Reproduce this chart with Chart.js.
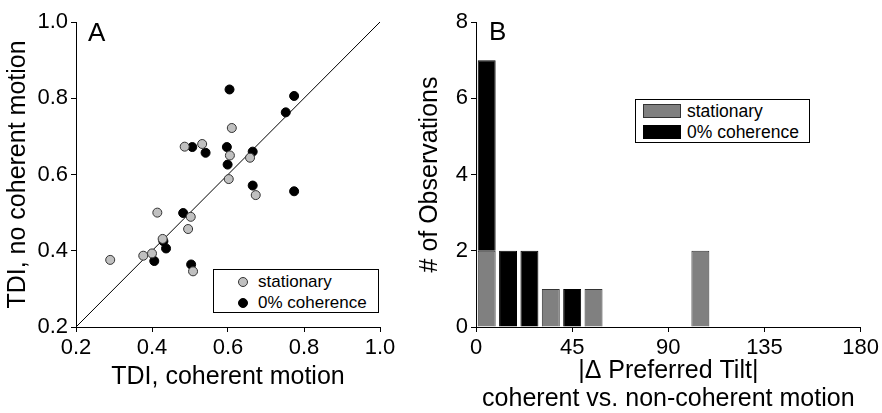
<!DOCTYPE html>
<html>
<head>
<meta charset="utf-8">
<script src="https://cdn.jsdelivr.net/npm/chart.js@4.4.0/dist/chart.umd.min.js"></script>
<style>
  body { margin: 0; background: #fff; font-family: "Liberation Sans", Arial, sans-serif; }
  #wrap { position: relative; width: 882px; height: 413px; overflow: hidden; }
  .panel { position: absolute; top: 0; }
  #panelA { left: 0; }
  #panelB { left: 410px; }
  .tag { position: absolute; font-size: 26px; line-height: 1; color: #000; }
  .legend { position: absolute; border: 1px solid #000; background: #fff; color: #000; box-sizing: border-box; }
  .legend .row { display: flex; align-items: center; white-space: nowrap; }
  .dot { width: 10px; height: 10px; border-radius: 50%; box-sizing: border-box; border: 1px solid #333; margin-right: 10px; }
  .swatch { width: 38px; height: 14px; box-sizing: border-box; border: 1px solid #333; margin-right: 6px; }
</style>
</head>
<body>
<div id="wrap">
  <div class="panel" id="panelA"><canvas id="chartA" width="410" height="413"></canvas></div>
  <div class="panel" id="panelB"><canvas id="chartB" width="472" height="413"></canvas></div>
  <div class="tag" style="left:88px;top:19px">A</div>
  <div class="tag" style="left:489px;top:18px">B</div>
  <div class="legend" id="legendA" style="left:213px;top:269px;width:166px;height:44px;padding:1px 0 0 24px;font-size:17px;line-height:21px"></div>
  <div class="legend" id="legendB" style="left:635px;top:99px;width:175px;height:44px;padding:1px 0 0 7px;font-size:17.5px;line-height:20.5px"></div>
</div>
<script>
// Panel A: tuning index with vs. without coherent motion
const stationaryX = [0.29, 0.377, 0.40, 0.414, 0.428, 0.502, 0.495, 0.508, 0.486, 0.532, 0.61, 0.605, 0.602, 0.658, 0.673];
const stationaryY = [0.376, 0.387, 0.393, 0.50, 0.431, 0.489, 0.457, 0.346, 0.673, 0.68, 0.722, 0.65, 0.588, 0.644, 0.546];
const coherenceX = [0.406, 0.43, 0.437, 0.482, 0.503, 0.506, 0.541, 0.604, 0.597, 0.599, 0.665, 0.665, 0.774, 0.752, 0.774];
const coherenceY = [0.373, 0.425, 0.406, 0.499, 0.364, 0.672, 0.657, 0.823, 0.672, 0.626, 0.66, 0.571, 0.806, 0.763, 0.556];
const unityLine = [[0.2, 0.2], [1.0, 1.0]];
const tdiTicks = [0.2, 0.4, 0.6, 0.8, 1.0];

// Panel B: histogram of preferred tilt change, 10 deg bins
const binCentres = [5, 15, 25, 35, 45, 55, 105];
const stationaryCounts = [2, 0, 0, 1, 0, 1, 2];
const coherenceCounts = [5, 2, 2, 0, 1, 0, 0];
const tiltTicks = [0, 45, 90, 135, 180];
const countTicks = [0, 2, 4, 6, 8];

const seriesLabels = ['stationary', '0% coherence'];

Chart.defaults.font.family = "'Liberation Sans', Arial, sans-serif";
Chart.defaults.color = '#000';

function pairs(xs, ys) {
  return xs.map((x, i) => ({ x: x, y: ys[i] }));
}
function bins(counts) {
  return binCentres.map((c, i) => ({ x: c, y: counts[i] > 0 ? counts[i] : null }));
}

function axis(min, max, ticks, fmt, title, extra) {
  return Object.assign({
    type: 'linear',
    min: min,
    max: max,
    afterBuildTicks: s => { s.ticks = ticks.map(v => ({ value: v })); },
    ticks: { callback: fmt, font: { size: 22 }, maxRotation: 0, autoSkip: false },
    grid: { drawOnChartArea: false, tickLength: 5, color: '#000' },
    border: { color: '#000', width: 1 },
    title: { display: true, text: title, font: { size: 25 } }
  }, extra);
}

const chartA = new Chart(document.getElementById('chartA'), {
  type: 'scatter',
  data: {
    datasets: [
      { label: seriesLabels[0], data: pairs(stationaryX, stationaryY), backgroundColor: '#c0c0c0', borderColor: '#333', borderWidth: 1, pointRadius: 4.5 },
      { label: seriesLabels[1], data: pairs(coherenceX, coherenceY), backgroundColor: '#000', borderColor: '#000', borderWidth: 1, pointRadius: 4.5 },
      { type: 'line', label: 'unity', data: unityLine.map(p => ({ x: p[0], y: p[1] })), borderColor: '#000', borderWidth: 1, pointRadius: 0, fill: false }
    ]
  },
  options: {
    responsive: false,
    animation: false,
    devicePixelRatio: 1,
    layout: { padding: { top: 22, right: 30, left: 0, bottom: 0 } },
    plugins: { legend: { display: false }, tooltip: { enabled: false } },
    scales: {
      x: axis(0.2, 1.0, tdiTicks, v => v.toFixed(1), 'TDI, coherent motion', {}),
      y: axis(0.2, 1.0, tdiTicks, v => v.toFixed(1), 'TDI, no coherent motion', {})
    }
  }
});
chartA.options.scales.x.ticks.padding = 3;
chartA.options.scales.x.title.padding = { top: 0, bottom: 21 };
chartA.options.scales.x.afterFit = s => { s.height = 86; };
chartA.options.scales.y.ticks.padding = 3;
chartA.options.scales.y.title.padding = { top: 3, bottom: 0 };
chartA.options.scales.y.afterFit = s => { s.width = 76; };
chartA.update();

const chartB = new Chart(document.getElementById('chartB'), {
  type: 'bar',
  data: {
    datasets: [
      { label: seriesLabels[0], data: bins(stationaryCounts), backgroundColor: '#808080', borderColor: '#333', borderWidth: 1 },
      { label: seriesLabels[1], data: bins(coherenceCounts), backgroundColor: '#000', borderColor: '#000', borderWidth: 1 }
    ]
  },
  options: {
    responsive: false,
    animation: false,
    devicePixelRatio: 1,
    datasets: { bar: { barPercentage: 0.84, categoryPercentage: 1 } },
    layout: { padding: { top: 22, right: 17, left: 0, bottom: 0 } },
    plugins: { legend: { display: false }, tooltip: { enabled: false } },
    scales: {
      x: axis(0, 180, tiltTicks, v => v, ['|\u0394 Preferred Tilt|', 'coherent vs. non-coherent motion'], {
        stacked: true, offset: false,
        afterFit: s => { s.height = 86; }
      }),
      y: axis(0, 8, countTicks, v => v, '# of Observations', {
        stacked: true,
        afterFit: s => { s.width = 66; }
      })
    }
  }
});
chartB.options.scales.x.grid.offset = false;
chartB.options.scales.x.ticks.padding = 3;
chartB.options.scales.x.title.font.lineHeight = 1.12;
chartB.options.scales.x.title.padding = { top: 0, bottom: 0 };
chartB.options.scales.y.ticks.padding = 3;
chartB.options.scales.y.title.padding = { top: 5, bottom: 0 };
chartB.update();

// HTML legends built from each chart's datasets
function buildLegend(chart, id, markerClass) {
  const box = document.getElementById(id);
  chart.data.datasets.slice(0, 2).forEach(ds => {
    const row = document.createElement('div');
    row.className = 'row';
    const mark = document.createElement('span');
    mark.className = markerClass;
    mark.style.background = ds.backgroundColor;
    mark.style.borderColor = ds.borderColor;
    row.appendChild(mark);
    row.appendChild(document.createTextNode(ds.label));
    box.appendChild(row);
  });
}
buildLegend(chartA, 'legendA', 'dot');
buildLegend(chartB, 'legendB', 'swatch');
</script>
</body>
</html>
